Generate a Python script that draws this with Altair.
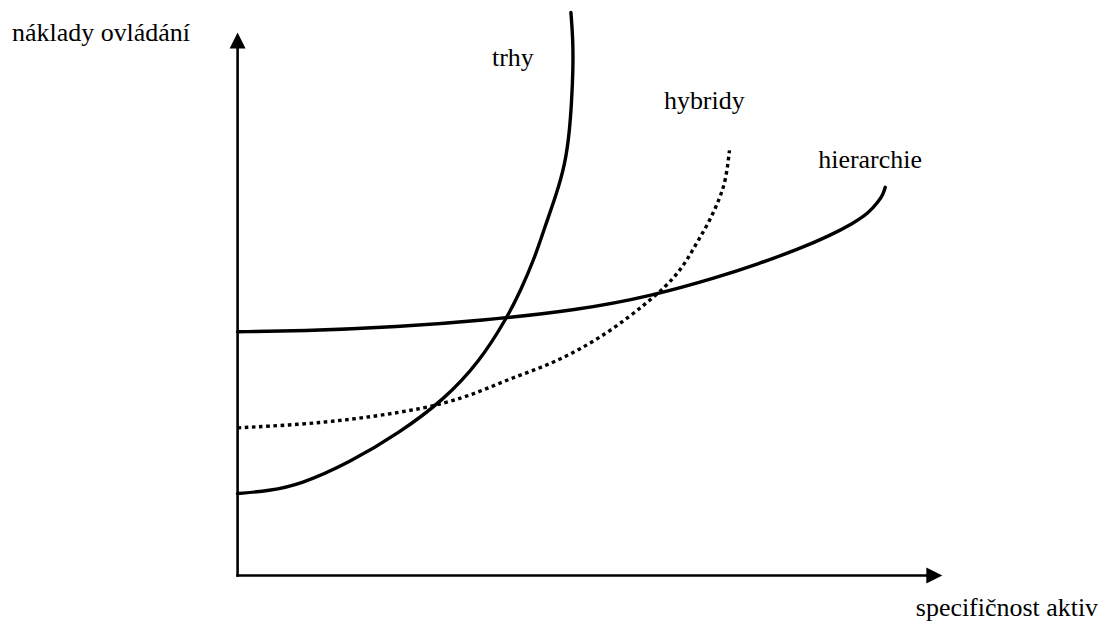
import altair as alt
import pandas as pd

# Conceptual units: both axes run from 0 to 100 (arrow tips at 100)
trhy_x = [0, 4.5, 8.8, 15.9, 23.0, 29.3, 34.3, 38.2, 40.2, 42.1, 43.6, 45.2, 46.5, 47.1, 47.4, 47.6, 47.6, 47.3]
trhy_y = [15.1, 15.6, 16.7, 20.8, 26.3, 32.4, 39.3, 47.4, 52.6, 58.3, 64.2, 70.0, 75.9, 81.8, 87.3, 93.0, 98.5, 103.7]

hybridy_x = [0, 8.8, 15.9, 23.0, 29.3, 34.3, 38.9, 43.8, 48.4, 53.1, 57.9, 60.8, 62.6, 64.0, 65.4, 66.9, 68.3, 69.3, 69.8]
hybridy_y = [27.2, 27.8, 28.7, 30.0, 31.6, 33.8, 36.4, 38.6, 41.5, 45.2, 50.0, 53.3, 55.9, 58.6, 61.8, 65.1, 69.1, 72.8, 78.3]

hier_x = [0, 8.8, 23.0, 34.3, 48.4, 58.8, 68.3, 73.9, 79.6, 83.9, 87.4, 89.5, 90.9, 91.6, 91.9]
hier_y = [44.9, 45.0, 45.8, 46.9, 48.9, 51.5, 55.0, 57.4, 60.1, 62.5, 64.9, 66.7, 68.8, 70.2, 71.5]

label_text = ["náklady ovládání", "trhy", "hybridy", "hierarchie"]
label_x = [-32.0, 36.1, 60.5, 82.4]
label_y = [98.35, 93.9, 85.85, 75.0]

xlabel_text = ["specifičnost aktiv"]
xlabel_x = [122.1]
xlabel_y = [-7.54]

axis_len = 100
FONT = "Liberation Serif"


def frame(name, xs, ys):
    return pd.DataFrame({"series": name, "x": xs, "y": ys, "order": list(range(len(xs)))})


solid_df = pd.concat([frame("trhy", trhy_x, trhy_y), frame("hierarchie", hier_x, hier_y)])
dotted_df = frame("hybridy", hybridy_x, hybridy_y)

# view: 1090 x 605 px, 7.06 px per x unit, 5.44 px per y unit
xs = alt.Scale(domain=[-32.58, 121.81], nice=False, zero=False)
ys = alt.Scale(domain=[-6.80, 104.41], nice=False, zero=False)
X = lambda f="x": alt.X(f"{f}:Q", scale=xs, axis=None)
Y = lambda f="y": alt.Y(f"{f}:Q", scale=ys, axis=None)

solid = alt.Chart(solid_df).mark_line(
    interpolate="basis", strokeWidth=3.4, color="black", strokeCap="round"
).encode(x=X(), y=Y(), detail="series:N", order="order:Q")

dotted = alt.Chart(dotted_df).mark_line(
    interpolate="basis", strokeWidth=3.4, color="black", strokeDash=[3.6, 3.6], strokeCap="butt"
).encode(x=X(), y=Y(), order="order:Q")

head_x = axis_len - 8 / 7.06
head_y = axis_len - 8 / 5.44
axes_df = pd.DataFrame({"x": [0, 0], "y": [0, 0], "x2": [0, head_x], "y2": [head_y, 0]})
axes = alt.Chart(axes_df).mark_rule(strokeWidth=2.6, color="black", strokeCap="square").encode(
    x=X(), y=Y(), x2="x2:Q", y2="y2:Q"
)

up_df = pd.DataFrame({"x": [0], "y": [head_y]})
right_df = pd.DataFrame({"x": [head_x], "y": [0]})
arrow_up = alt.Chart(up_df).mark_point(
    shape="M0,-1L1,1L-1,1Z", filled=True, size=256, color="black", opacity=1
).encode(x=X(), y=Y())
arrow_right = alt.Chart(right_df).mark_point(
    shape="M1,0L-1,-1L-1,1Z", filled=True, size=256, color="black", opacity=1
).encode(x=X(), y=Y())

labels_df = pd.DataFrame({"t": label_text, "x": label_x, "y": label_y})
labels = alt.Chart(labels_df).mark_text(
    font=FONT, fontSize=26, align="left", baseline="alphabetic", color="black"
).encode(x=X(), y=Y(), text="t:N")

xlabel_df = pd.DataFrame({"t": xlabel_text, "x": xlabel_x, "y": xlabel_y})
xlabel = alt.Chart(xlabel_df).mark_text(
    font=FONT, fontSize=26, align="right", baseline="alphabetic", color="black"
).encode(x=X(), y=Y(), text="t:N")

chart = alt.layer(axes, arrow_up, arrow_right, solid, dotted, labels, xlabel).properties(
    width=1090, height=605, autosize=alt.AutoSizeParams(type="none"),
    padding={"left": 0, "top": 0, "right": 6, "bottom": 14}
).configure_view(stroke=None)

chart.save("out.html", embed_options={"renderer": "svg", "actions": False})
